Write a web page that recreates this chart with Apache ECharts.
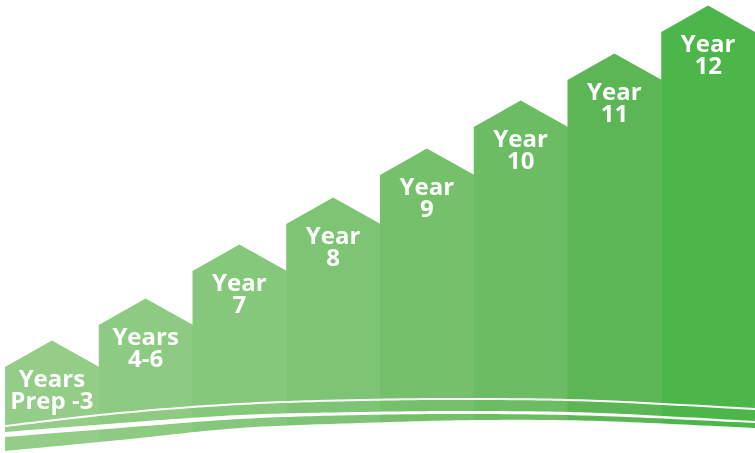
<!DOCTYPE html>
<html>
<head>
<meta charset="utf-8">
<script src="https://cdn.jsdelivr.net/npm/echarts@6/dist/echarts.min.js"></script>
<style>
html,body{margin:0;padding:0;background:#fff;}
#c{width:755px;height:453px;}
</style>
</head>
<body>
<div id="c"></div>
<script>
// ---- data ----
var categories = ['Years\nPrep -3', 'Years\n4-6', 'Year\n7', 'Year\n8', 'Year\n9', 'Year\n10', 'Year\n11', 'Year\n12'];
var values = [86, 128, 182, 229, 278, 326, 373, 421];
var roofHeight = 26.5;
var barColors = ['#94cd88', '#8ccb81', '#86c87b', '#7ec475', '#75c06b', '#6bbc62', '#5cb655', '#4db64b'];

// decorative swoosh curves (pixel space)
var thinLine = [[5,426],[120,413],[240,404],[360,400],[480,399],[600,401],[755,409]];
var bandTop = [[5,432],[120,423],[240,415],[360,412],[480,411],[600,413],[755,421]];
var bandBot = [[5,437],[120,428],[240,419],[360,415],[480,414],[600,416],[755,423]];
var bottomEdge = [[5,451],[120,440],[240,428],[360,423],[480,420],[600,421],[755,428]];

function catmull(pts, n) {
  var out = [];
  for (var i = 0; i < pts.length - 1; i++) {
    var p0 = pts[Math.max(i - 1, 0)], p1 = pts[i], p2 = pts[i + 1], p3 = pts[Math.min(i + 2, pts.length - 1)];
    for (var k = 0; k < n; k++) {
      var t = k / n, t2 = t * t, t3 = t2 * t;
      var f = function (a, b, c, d) {
        return 0.5 * ((2 * b) + (-a + c) * t + (2 * a - 5 * b + 4 * c - d) * t2 + (-a + 3 * b - 3 * c + d) * t3);
      };
      out.push([f(p0[0], p1[0], p2[0], p3[0]), f(p0[1], p1[1], p2[1], p3[1])]);
    }
  }
  out.push(pts[pts.length - 1]);
  return out;
}

var chart = echarts.init(document.getElementById('c'), null, {renderer: 'canvas'});

var thinPts = catmull(thinLine, 20);
var bandPts = catmull(bandTop, 20).concat(catmull(bandBot, 20).reverse());
var whitePts = catmull(bottomEdge, 20).concat([[760, 460], [0, 460], [0, 451]]);

var option = {
  backgroundColor: '#ffffff',
  animation: false,
  grid: {left: 5, right: 0, top: 0, bottom: 0},
  xAxis: {type: 'category', data: categories, show: false, boundaryGap: true},
  yAxis: {type: 'value', min: 0, max: 453, show: false},
  series: [{
    type: 'custom',
    data: values.map(function (v, i) { return [i, v]; }),
    renderItem: function (params, api) {
      var i = params.dataIndex;
      var top = api.coord([api.value(0), api.value(1)]);
      var base = api.coord([api.value(0), 0]);
      var w = api.size([1, 0])[0];
      var roofPx = api.size([0, roofHeight])[1];
      var l = top[0] - w / 2, r = top[0] + w / 2 + (i < values.length - 1 ? 0.6 : 0);
      return {
        type: 'group',
        children: [{
          type: 'polygon',
          shape: {points: [[l, base[1]], [l, top[1]], [top[0], top[1] - roofPx], [r, top[1]], [r, base[1]]]},
          style: {fill: barColors[i]}
        }, {
          type: 'text',
          z2: 10,
          style: {
            text: categories[i],
            x: top[0],
            y: top[1] + 24,
            align: 'center',
            verticalAlign: 'middle',
            fill: '#ffffff',
            fontFamily: 'Open Sans',
            fontWeight: 'bold',
            fontSize: 24,
            lineHeight: 22
          }
        }]
      };
    }
  }],
  graphic: [
    {type: 'polygon', z: 100, shape: {points: whitePts}, style: {fill: '#ffffff'}},
    {type: 'polygon', z: 100, shape: {points: bandPts}, style: {fill: '#ffffff'}},
    {type: 'polyline', z: 100, shape: {points: thinPts}, style: {stroke: '#ffffff', lineWidth: 2, fill: null}}
  ]
};
chart.setOption(option);
</script>
</body>
</html>
